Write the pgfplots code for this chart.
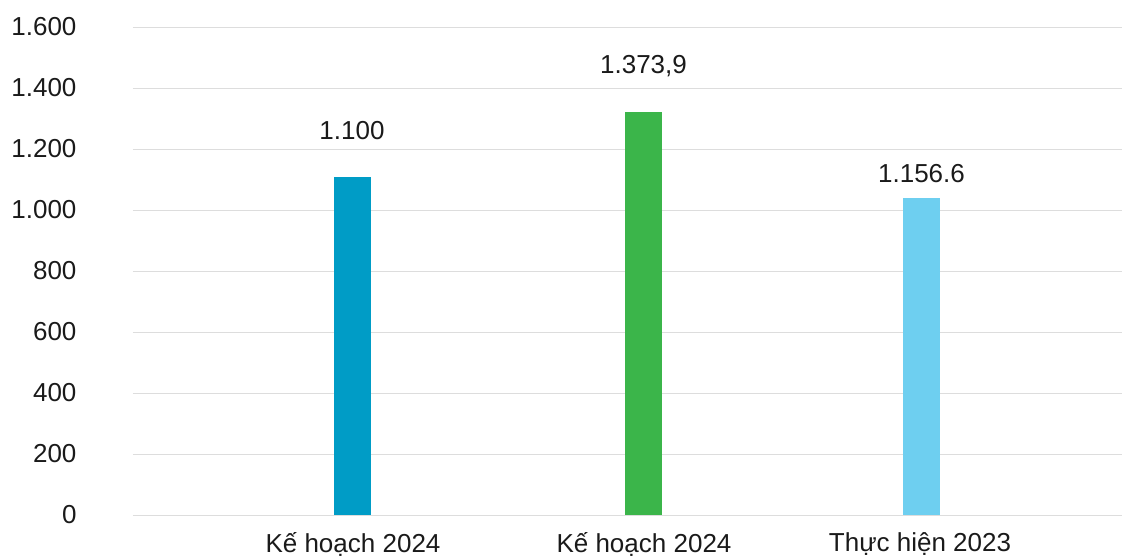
\documentclass[border=0pt]{standalone}
\usepackage{pgfplots}
\pgfplotsset{compat=1.18}
\usepackage{fontspec}
\setmainfont{Liberation Sans}
\definecolor{barA}{HTML}{009CC6}
\definecolor{barB}{HTML}{3BB54A}
\definecolor{barC}{HTML}{6ECFF0}
\definecolor{gridc}{HTML}{DDDDDD}
\definecolor{txt}{HTML}{1A1A1A}
\begin{document}
\begin{tikzpicture}[x=1pt,y=1pt]
\path[use as bounding box] (-133pt,-43pt) rectangle (990pt,515pt);
\begin{axis}[
  at={(0,0)}, anchor=south west,
  scale only axis, width=989pt, height=488pt,
  xmin=0, xmax=989, ymin=0, ymax=1600,
  axis line style={draw=none},
  ytick={0,200,...,1600},
  ymajorgrids, grid style={gridc, line width=0.8pt},
  major tick length=0pt,
  xtick={220,511,787},
  xticklabels={Kế hoạch 2024, Kế hoạch 2024, Thực hiện 2023},
  ticklabel style={font=\fontsize{26}{30}\selectfont, text=txt},
  yticklabel style={anchor=east, xshift=-53pt},
  xticklabel style={anchor=north, yshift=-14pt},
  /pgf/number format/.cd, 1000 sep={.}, assume math mode=true,
  /pgfplots/.cd,
  ybar, bar width=37pt,
  clip=false,
]
\addplot[fill=barA, draw=none, bar shift=0pt] coordinates {(219,1108)};
\addplot[fill=barB, draw=none, bar shift=0pt] coordinates {(510.5,1321)};
\addplot[fill=barC, draw=none, bar shift=0pt] coordinates {(788.5,1039)};
\node[font=\fontsize{26}{30}\selectfont, text=txt] at (axis cs:219,1262) {1.100};
\node[font=\fontsize{26}{30}\selectfont, text=txt] at (axis cs:510.5,1472) {1.373,9};
\node[font=\fontsize{26}{30}\selectfont, text=txt] at (axis cs:788.5,1121) {1.156.6};
\end{axis}
\end{tikzpicture}
\end{document}
